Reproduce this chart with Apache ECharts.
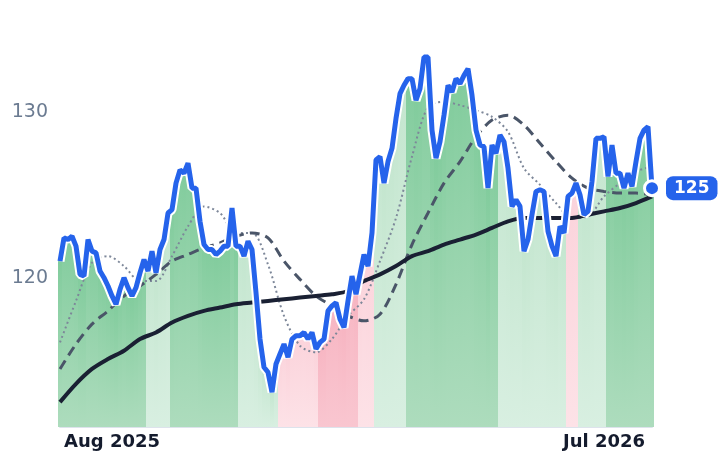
<!DOCTYPE html>
<html><head><meta charset="utf-8">
<script src="https://cdn.jsdelivr.net/npm/echarts@6/dist/echarts.min.js"></script>
<style>html,body{margin:0;padding:0;background:#fff}#c{width:718px;height:464px}</style>
</head><body><div id="c"></div>
<script>
const price = [121.0,122.4,122.3,122.5,121.9,120.2,120.1,122.3,121.6,121.5,120.4,120.0,119.5,118.9,118.4,119.3,120.0,119.4,118.9,119.4,
120.3,121.1,120.4,121.6,120.3,121.7,122.3,123.9,124.1,125.7,126.5,126.3,126.9,125.4,125.4,123.4,122.0,121.7,121.7,121.4,
121.6,121.9,121.9,124.2,121.9,121.9,121.3,122.2,121.7,119.1,116.3,114.6,114.3,113.1,114.8,115.4,116.0,115.2,116.3,116.5,
116.5,116.7,116.3,116.7,115.7,116.1,116.3,118.0,118.3,118.5,117.5,117.0,118.6,120.1,119.0,120.2,121.4,120.7,122.7,127.1,
127.3,125.7,127.0,127.8,129.6,131.1,131.6,132.0,132.0,130.7,131.4,133.3,133.3,128.9,127.2,128.2,129.8,131.6,131.2,132.0,
131.7,132.2,132.6,131.0,128.9,128.0,127.9,125.4,128.0,127.5,128.6,128.2,126.6,124.3,124.7,124.3,121.6,122.3,123.8,125.2,
125.3,125.2,122.8,121.9,121.3,123.1,122.7,124.9,125.1,125.7,125.0,123.8,124.0,125.8,128.4,128.4,128.5,126.1,128.0,126.3,
126.3,125.4,126.3,125.5,127.0,128.4,128.9,129.1,125.4];
// moving averages sampled every 4th point
const maLong = [112.5,113.6,114.5,115.1,115.6,116.3,116.7,117.3,117.7,118.0,118.2,118.4,118.5,118.6,118.7,118.8,118.9,119.0,119.2,119.8,
120.2,120.7,121.3,121.6,122.0,122.3,122.6,123.0,123.4,123.6,123.6,123.6,123.6,123.8,124.0,124.2,124.5,124.9];
const maMid = [114.5,116.0,117.2,118.0,118.9,119.5,120.2,121.0,121.4,121.8,122.1,122.5,122.7,122.4,121.0,119.9,118.9,118.3,117.7,117.4,
117.8,119.6,122.0,123.9,125.7,127.0,128.5,129.5,129.8,129.2,128.1,127.0,126.0,125.4,125.2,125.1,125.1,125.0];
const maShort = [116.1,118.6,120.9,121.3,120.7,119.8,119.8,121.3,123.1,124.3,123.9,122.7,122.7,120.8,117.7,115.9,115.5,116.3,117.7,118.7,
121.0,123.6,127.3,130.3,130.6,130.4,130.1,129.7,128.8,126.6,125.6,124.5,123.6,123.7,124.9,125.7,126.4,126.7];
// regime segments: [firstIndex, lastIndex, type]  G=strong up, g=up, r=down, R=strong down
const regimes = [[0,21,'G'],[22,27,'g'],[28,44,'G'],[45,54,'g'],[55,64,'r'],[65,74,'R'],[75,78,'r'],[79,86,'g'],[87,109,'G'],[110,126,'g'],[127,129,'r'],[130,136,'g'],[137,148,'G']];
const tickLabels = {13:'Aug 2025', 136:'Jul 2026'};

const start = new Date(Date.UTC(2025,5,26));
const categories = price.map((_, i) => new Date(start.getTime() + i*2.72*86400000).toISOString().slice(0,10));
const G = echarts.graphic.LinearGradient;
const fills = {
  G: new G(0,0,0,1,[{offset:0,color:'#82cc9d'},{offset:1,color:'#addcbd'}]),
  g: new G(0,0,0,1,[{offset:0,color:'#c4e6cf'},{offset:1,color:'#d8efe1'}]),
  r: new G(0,0,0,1,[{offset:0,color:'#fbd3db'},{offset:1,color:'#fde2e7'}]),
  R: new G(0,0,0,1,[{offset:0,color:'#f7b5c2'},{offset:1,color:'#f9c6d0'}])
};
function regimeOf(i){ for (const r of regimes) if (i>=r[0] && i<=r[1]) return r[2]; return 'g'; }
const barData = price.map((v,i) => ({value:v, itemStyle:{color:fills[regimeOf(i)]}}));
function spread(arr){ const out = price.map(()=>null); arr.forEach((v,k)=>{ out[k*4]=v; }); return out; }
const last = price.length-1;
const dotData = [[last, price[last]]];

const chart = echarts.init(document.getElementById('c'));
chart.setOption({
  animation:false,
  grid:{left:60,right:66,top:4,bottom:37},
  xAxis:{type:'category',data:categories,boundaryGap:false,
    axisLine:{lineStyle:{color:'#dde3ec',width:2}},axisTick:{show:false},
    axisLabel:{interval:(i)=>tickLabels[i]!==undefined,formatter:(v,i)=>tickLabels[i]||'',
      color:'#141b2d',fontWeight:'bold',fontSize:18,fontFamily:'DejaVu Sans',margin:6}},
  yAxis:{type:'value',min:111,max:136.5,interval:1,splitLine:{show:false},
    axisLabel:{formatter:(v)=>(v===120||v===130)?String(v):'',color:'#6b7b91',fontSize:19,fontFamily:'DejaVu Sans',margin:12}},
  series:[
    {type:'bar',data:barData,barCategoryGap:'0%',barGap:'0%',silent:true},
    {type:'line',data:spread(maShort),connectNulls:true,showSymbol:false,smooth:0.3,lineStyle:{color:'#7d8799',width:2,type:[2,3]}},
    {type:'line',data:spread(maMid),connectNulls:true,showSymbol:false,smooth:0.3,lineStyle:{color:'#4a5568',width:3,type:[10,6]}},
    {type:'line',data:spread(maLong),connectNulls:true,showSymbol:false,smooth:0.3,lineStyle:{color:'#1a2033',width:4}},
    {type:'line',data:price,showSymbol:false,lineStyle:{color:'#ffffff',width:9}},
    {type:'line',data:price,showSymbol:false,lineStyle:{color:'#2563eb',width:5},
      endLabel:{show:true,formatter:(p)=>Math.round(p.value),color:'#fff',fontWeight:'bold',fontSize:17,fontFamily:'DejaVu Sans',
        backgroundColor:'#2563eb',borderRadius:7,padding:[4,8,3,8],distance:14}},
    {type:'scatter',data:dotData,z:10,symbolSize:15,itemStyle:{color:'#2563eb',opacity:1,borderColor:'#fff',borderWidth:3}}
  ]
});
</script></body></html>
